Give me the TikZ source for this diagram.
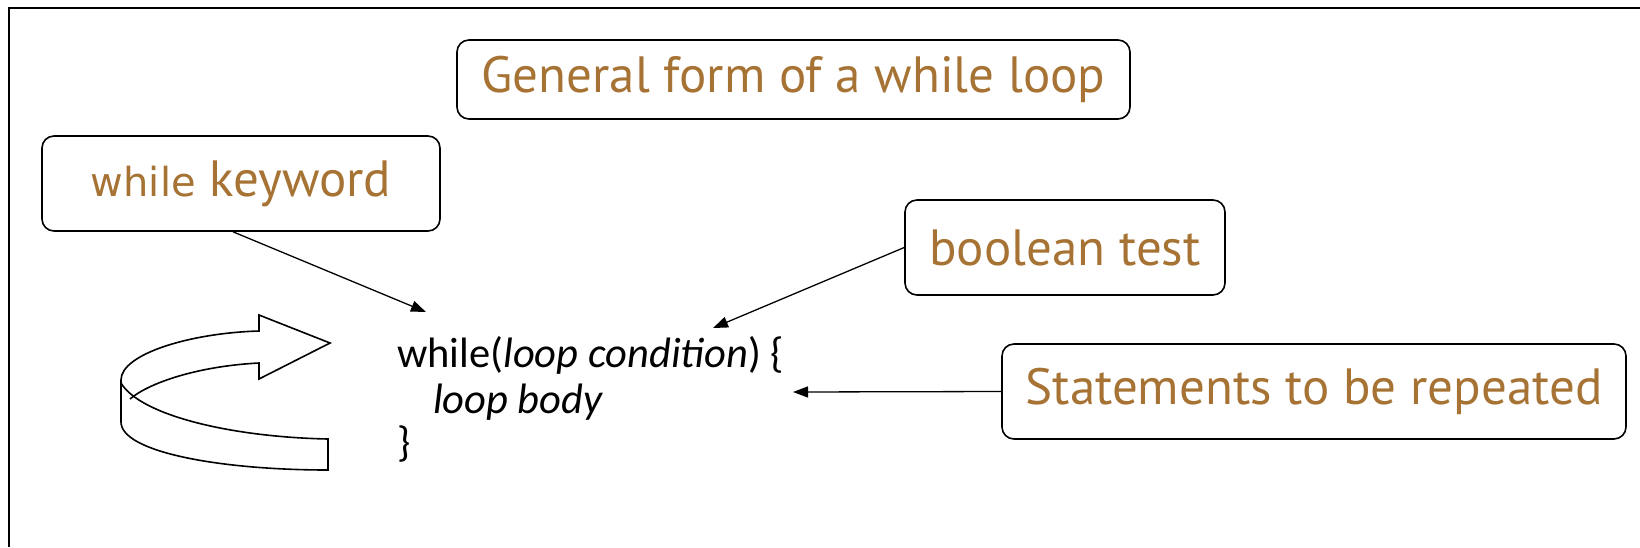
\documentclass[tikz,border=0pt]{standalone}
\usepackage{fontspec}
\setmainfont{Carlito}
\newfontfamily\labfont{PT Sans}
\newfontfamily\kwfont{DejaVu Sans}
\usetikzlibrary{arrows.meta}
\definecolor{labbrown}{RGB}{166,115,52}
\tikzset{
  labelbox/.style={draw, line width=1.6pt, rounded corners=12pt, text=labbrown, font=\labfont\fontsize{51}{60}\selectfont, inner sep=0pt},
  codetext/.style={font=\fontsize{42.5}{50}\selectfont, inner sep=0pt, anchor=base west},
  pointer/.style={line width=1.3pt, -{Triangle[length=15pt,width=11pt]}},
  outline/.style={line width=1.6pt, line join=miter}
}
\begin{document}
\begin{tikzpicture}[x=1pt,y=-1pt]
\useasboundingbox (0,0) rectangle (1640,547);
% frame
\draw[line width=1.8pt] (9,547) -- (9,8) -- (1640,8);
% label boxes
\node[labelbox, minimum width=673pt, minimum height=79pt] (title) at (793.5,79.5) {General form of a while loop};
\node[labelbox, minimum width=398pt, minimum height=95pt] (kw) at (241,183.5) {{\kwfont\fontsize{40}{48}\selectfont while} keyword};
\node[labelbox, minimum width=320pt, minimum height=95pt] (bool) at (1065,247.5) {boolean test};
\node[labelbox, minimum width=624pt, minimum height=95pt] (stmt) at (1314,391.5) {Statements to be repeated};
% code
\node[codetext] (l1) at (397,367) {while(\textit{loop condition}) \{};
\node[codetext] (l2) at (433,413) {\textit{loop body}};
\node[codetext] (l3) at (397,456) {\}};
% pointer targets
\coordinate (tkw) at (426,312);
\coordinate (tbool) at (713,328);
\coordinate (tstmt) at (793,392);
\draw[pointer] ([xshift=-8pt]kw.south) -- (tkw);
\draw[pointer] (bool.west) -- (tbool);
\draw[pointer] (stmt.west) -- (tstmt);
% circular arrow
\draw[outline] (121,380) .. controls (121,354) and (190,333) .. (259,331)
  -- (259,315) -- (330,343) -- (259,379) -- (259,363)
  .. controls (200,366) and (150,382) .. (130,399);
\draw[outline] (121,380) -- (121,422) .. controls (121,452) and (220,470) .. (328,470)
  -- (328,439) .. controls (230,437) and (140,415) .. (121,383);
\end{tikzpicture}
\end{document}
